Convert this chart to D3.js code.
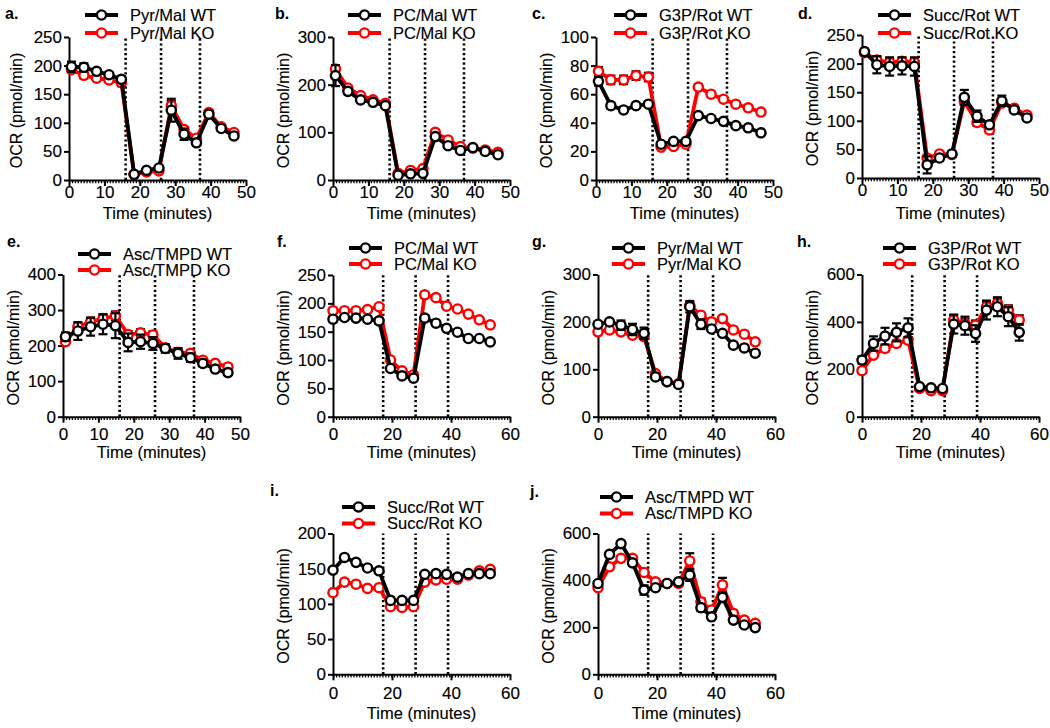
<!DOCTYPE html>
<meta charset="utf-8">
<body style="margin:0;background:#fff">
<script src="https://cdn.jsdelivr.net/npm/d3@7"></script>
<script>
// measurement times (minutes)
var time50 = [0.7, 4.2, 7.8, 11.3, 14.8, 18.4, 21.9, 25.4, 28.9, 32.5, 36.0, 39.5, 43.0, 46.6];
var time60 = [0, 3.9, 7.8, 11.7, 15.6, 19.5, 23.4, 27.3, 31.1, 34.9, 38.5, 42.2, 45.9, 49.6, 53.3];
var inj50 = [16, 26, 37];
var inj60 = [17, 28, 39];

var names = ["Pyr/Mal", "PC/Mal", "G3P/Rot", "Succ/Rot", "Asc/TMPD", "PC/Mal", "Pyr/Mal", "G3P/Rot", "Succ/Rot", "Asc/TMPD"];
var letters = ["a.", "b.", "c.", "d.", "e.", "f.", "g.", "h.", "i.", "j."];
var yMax = [250, 300, 100, 250, 400, 250, 300, 600, 200, 600];
var yStep = [50, 100, 20, 50, 100, 50, 100, 200, 50, 200];

var aWT = [198, 197, 190, 184, 176, 10, 17, 21, 122, 80, 65, 115, 90, 77];
var aKO = [193, 183, 178, 175, 170, 10, 14, 16, 130, 88, 73, 118, 93, 83];
var aWTerr = [9, 7, 4, 4, 5, 2, 3, 3, 20, 10, 3, 4, 3, 3];
var aKOerr = [5, 5, 4, 4, 6, 2, 2, 2, 8, 5, 4, 4, 3, 3];

var bWT = [219, 186, 168, 163, 156, 10, 13, 14, 91, 72, 62, 68, 60, 53];
var bKO = [233, 193, 177, 168, 161, 14, 20, 24, 100, 84, 70, 67, 63, 58];
var bWTerr = [22, 5, 4, 3, 3, 2, 2, 3, 6, 4, 3, 3, 3, 3];
var bKOerr = [8, 5, 4, 4, 4, 2, 3, 3, 5, 4, 4, 3, 3, 3];

var cWT = [69, 52, 49, 52, 53, 25, 27, 27, 45, 43, 41, 38, 36.5, 33];
var cKO = [76, 70, 70, 73, 72, 23, 23.5, 25, 65, 60, 56.5, 53, 50.5, 47.5];
var cWTerr = [3, 2, 1.5, 1.5, 1.5, 1, 1, 1, 1.5, 1, 1, 1, 1, 1];
var cKOerr = [3, 3, 3, 3, 3, 1, 1, 1, 2, 1.5, 1.5, 1.5, 1.5, 1.5];

var dWT = [221, 198, 195, 196, 195, 23, 35, 42, 141, 108, 93, 135, 119, 105];
var dKO = [219, 206, 202, 204, 202, 35, 42, 41, 134, 97, 84, 131, 122, 110];
var dWTerr = [5, 15, 16, 15, 16, 15, 5, 4, 13, 10, 5, 9, 5, 4];
var dKOerr = [4, 6, 6, 6, 6, 5, 4, 4, 6, 6, 5, 5, 4, 4];

var eWT = [225, 241, 253, 260, 256, 209, 211, 206, 192, 178, 166, 150, 134, 124];
var eKO = [211, 253, 267, 276, 284, 231, 236, 230, 194, 181, 178, 159, 150, 140];
var eWTerr = [12, 25, 25, 28, 35, 25, 20, 18, 12, 15, 12, 8, 6, 6];
var eKOerr = [6, 10, 12, 12, 12, 10, 10, 10, 8, 8, 8, 6, 6, 6];

var fWT = [172, 175, 174, 172, 169, 85, 72, 68, 174, 165, 156, 149, 138, 138, 132];
var fKO = [187, 187, 187, 189, 194, 100, 81, 74, 215, 210, 195, 190, 181, 171, 162];
var fWTerr = [5, 4, 4, 4, 5, 4, 3, 3, 5, 4, 4, 4, 3, 3, 3];
var fKOerr = [4, 4, 4, 4, 4, 4, 3, 3, 5, 4, 4, 4, 3, 3, 3];

var gWT = [195, 200, 193, 184, 176, 84, 74, 68, 232, 195, 185, 176, 151, 145, 134];
var gKO = [179, 183, 179, 172, 169, 91, 74, 70, 235, 214, 200, 207, 183, 174, 158];
var gWTerr = [5, 5, 10, 12, 12, 5, 4, 4, 12, 10, 6, 5, 5, 5, 5];
var gKOerr = [5, 5, 5, 5, 5, 4, 4, 4, 6, 5, 5, 5, 5, 5, 5];

var hWT = [239, 309, 340, 356, 375, 127, 122, 119, 391, 384, 351, 450, 464, 422, 356];
var hKO = [194, 260, 288, 309, 323, 119, 110, 110, 408, 393, 386, 464, 478, 450, 408];
var hWTerr = [15, 30, 35, 38, 40, 10, 8, 8, 40, 38, 35, 40, 40, 40, 35];
var hKOerr = [10, 12, 12, 12, 12, 8, 8, 8, 20, 20, 20, 20, 20, 20, 20];

var iWT = [148, 166, 159, 151, 147, 105, 105, 105, 142, 143, 142, 138, 143, 143, 143];
var iKO = [116, 131, 128, 122, 123, 96, 95, 96, 131, 134, 135, 135, 141, 147, 149];
var iWTerr = [3, 3, 3, 3, 3, 3, 3, 3, 3, 3, 3, 3, 3, 3, 3];
var iKOerr = [3, 3, 3, 3, 3, 3, 3, 3, 3, 3, 3, 3, 3, 3, 3];

var jWT = [387, 511, 557, 475, 359, 369, 387, 394, 423, 284, 245, 328, 231, 210, 199];
var jKO = [369, 458, 494, 494, 434, 394, 387, 387, 483, 309, 274, 381, 260, 231, 217];
var jWTerr = [10, 10, 10, 10, 20, 8, 8, 8, 25, 15, 10, 20, 10, 8, 8];
var jKOerr = [8, 8, 8, 8, 8, 8, 8, 8, 33, 15, 10, 30, 10, 8, 8];

var wtSets = [aWT, bWT, cWT, dWT, eWT, fWT, gWT, hWT, iWT, jWT];
var koSets = [aKO, bKO, cKO, dKO, eKO, fKO, gKO, hKO, iKO, jKO];
var wtErrs = [aWTerr, bWTerr, cWTerr, dWTerr, eWTerr, fWTerr, gWTerr, hWTerr, iWTerr, jWTerr];
var koErrs = [aKOerr, bKOerr, cKOerr, dKOerr, eKOerr, fKOerr, gKOerr, hKOerr, iKOerr, jKOerr];

// layout (pixels)
var layout = [
  {x: 69, top: 37, bot: 180, lx: 85, ly: 15, lab: [5, 19], row: 0},
  {x: 333, top: 37, bot: 180, lx: 348, ly: 15, lab: [275, 19], row: 0},
  {x: 596, top: 37, bot: 180, lx: 614, ly: 15, lab: [532, 19], row: 0},
  {x: 862, top: 35, bot: 178, lx: 878, ly: 15, lab: [798, 19], row: 0},
  {x: 63, top: 274.5, bot: 416.7, lx: 78, ly: 254, lab: [7, 247], row: 1},
  {x: 333, top: 275, bot: 416.7, lx: 349, ly: 248, lab: [277, 247], row: 1},
  {x: 598, top: 274.5, bot: 416.7, lx: 612, ly: 248, lab: [532, 247], row: 1},
  {x: 862, top: 274.5, bot: 416.7, lx: 883, ly: 248, lab: [797, 247], row: 1},
  {x: 333, top: 533.5, bot: 674.3, lx: 342, ly: 507, lab: [270, 496], row: 2},
  {x: 598, top: 533.5, bot: 674.3, lx: 600, ly: 497, lab: [530, 497], row: 2}
];
var rowTickPad = [0, 5, 7];
var rowTitleY = [219, 458, 719];
var legendGap = [18, 16, 16.5];
var plotW = 177;
var font = "Arial, 'Liberation Sans', sans-serif";

var svg = d3.select("body").append("svg")
    .attr("width", 1050)
    .attr("height", 728)
    .style("font-family", font);

function heavy(sel, size) {
    sel.style("font-size", size + "px").style("font-family", font)
        .attr("fill", "#000").attr("stroke", "#000").attr("stroke-width", 0.15);
}

layout.forEach(function(L, i) {
    var t = i < 5 ? time50 : time60;
    var inj = i < 5 ? inj50 : inj60;
    var xmax = i < 5 ? 50 : 60;
    var xstep = i < 5 ? 10 : 20;

    var x = d3.scaleLinear().domain([0, xmax]).range([L.x, L.x + plotW]);
    var y = d3.scaleLinear().domain([0, yMax[i]]).range([L.bot, L.top]);
    var g = svg.append("g");

    // injection markers
    g.selectAll(".inj").data(inj).enter().append("line")
        .attr("x1", function(d) { return x(d); })
        .attr("x2", function(d) { return x(d); })
        .attr("y1", L.bot).attr("y2", L.top)
        .attr("stroke", "#000").attr("stroke-width", 2.6)
        .attr("stroke-dasharray", "2.2,2.6");

    // axes
    var ya = g.append("g").attr("transform", "translate(" + L.x + ",0)")
        .call(d3.axisLeft(y).tickValues(d3.range(0, yMax[i] + 0.1, yStep[i])).tickSize(5).tickSizeOuter(0).tickPadding(2));
    var xa = g.append("g").attr("transform", "translate(0," + L.bot + ")")
        .call(d3.axisBottom(x).tickValues(d3.range(0, xmax + 0.1, xstep)).tickSize(6).tickSizeOuter(0).tickPadding(rowTickPad[L.row]));
    [ya, xa].forEach(function(a) {
        a.selectAll("path, line").attr("stroke", "#000").attr("stroke-width", 2);
        heavy(a.selectAll("text"), 17);
    });
    // dotted baseline along the x axis
    g.append("line")
        .attr("x1", L.x).attr("x2", L.x + plotW)
        .attr("y1", L.bot + 2).attr("y2", L.bot + 2)
        .attr("stroke", "#000").attr("stroke-width", 2.5)
        .attr("stroke-dasharray", "1.3,1.6");

    heavy(g.append("text")
        .attr("transform", "translate(" + (L.x - (i === 0 ? 53 : 50)) + "," + ((L.top + L.bot) / 2 + 2) + ") rotate(-90)")
        .attr("text-anchor", "middle").attr("dy", "0.35em")
        .text("OCR (pmol/min)"), 16);
    heavy(g.append("text")
        .attr("x", L.x + plotW / 2).attr("y", rowTitleY[L.row])
        .attr("text-anchor", "middle")
        .text("Time (minutes)"), 16.5);
    g.append("text")
        .attr("x", L.lab[0]).attr("y", L.lab[1])
        .style("font-size", "16px").style("font-weight", "bold")
        .text(letters[i]);

    var series = [
        {vals: koSets[i], err: koErrs[i], color: "#ff0000"},
        {vals: wtSets[i], err: wtErrs[i], color: "#000000"}
    ];
    var line = d3.line().x(function(d) { return x(d[0]); }).y(function(d) { return y(d[1]); });

    series.forEach(function(s) {
        var pts = t.map(function(tt, k) { return [tt, s.vals[k], s.err[k]]; });
        var eb = g.append("g").attr("stroke", "#000").attr("stroke-width", 2.2);
        pts.forEach(function(p) {
            eb.append("line").attr("x1", x(p[0])).attr("x2", x(p[0]))
                .attr("y1", y(p[1] - p[2])).attr("y2", y(p[1] + p[2]));
            [p[1] - p[2], p[1] + p[2]].forEach(function(v) {
                eb.append("line").attr("x1", x(p[0]) - 4.5).attr("x2", x(p[0]) + 4.5)
                    .attr("y1", y(v)).attr("y2", y(v));
            });
        });
        g.append("path").datum(pts)
            .attr("d", line)
            .attr("fill", "none").attr("stroke", s.color).attr("stroke-width", 3.8)
            .attr("stroke-linejoin", "round");
        g.selectAll(null).data(pts).enter().append("circle")
            .attr("cx", function(d) { return x(d[0]); })
            .attr("cy", function(d) { return y(d[1]); })
            .attr("r", 4.6)
            .attr("fill", "#fff").attr("stroke", s.color).attr("stroke-width", 2.4);
    });

    // legend
    [["WT", "#000000"], ["KO", "#ff0000"]].forEach(function(e, k) {
        var ly = L.ly + k * legendGap[L.row];
        g.append("line").attr("x1", L.lx).attr("x2", L.lx + 33)
            .attr("y1", ly).attr("y2", ly)
            .attr("stroke", e[1]).attr("stroke-width", 4);
        g.append("circle").attr("cx", L.lx + 16.5).attr("cy", ly).attr("r", 4.6)
            .attr("fill", "#fff").attr("stroke", e[1]).attr("stroke-width", 2.4);
        heavy(g.append("text").attr("x", L.lx + 45).attr("y", ly).attr("dy", "0.35em")
            .text(names[i] + " " + e[0]), 16.5);
    });
});
</script>
